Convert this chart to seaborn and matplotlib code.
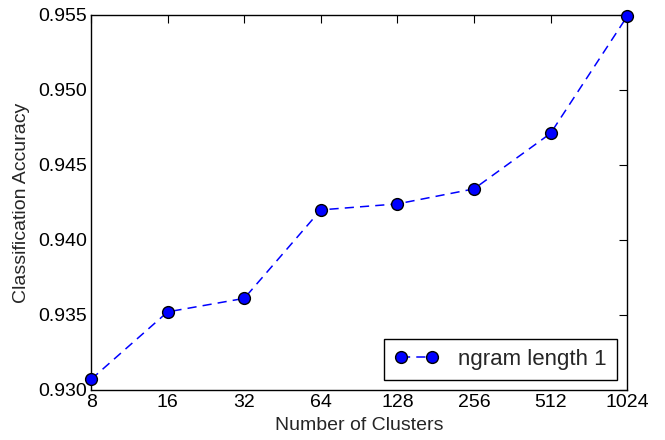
import numpy as np
import pandas as pd
import matplotlib
matplotlib.use('Agg')
import matplotlib.pyplot as plt
import seaborn as sns

clusters = [8, 16, 32, 64, 128, 256, 512, 1024]
accuracy = [0.9307, 0.9352, 0.9361, 0.9420, 0.9424, 0.9434, 0.9471, 0.9549]
series_label = 'ngram length 1'
yticks = [0.930, 0.935, 0.940, 0.945, 0.950, 0.955]


def main():
    sns.set_style('white')
    plt.rcParams['font.family'] = ['Liberation Sans', 'DejaVu Sans']

    df = pd.DataFrame({'clusters': clusters, 'accuracy': accuracy})

    fig, ax = plt.subplots(figsize=(6.65, 4.4), dpi=100)
    fig.subplots_adjust(left=0.137, right=0.943, top=0.966, bottom=0.114)

    sns.lineplot(data=df, x='clusters', y='accuracy', ax=ax, color='blue',
                 linestyle=(0, (6, 4)), marker='o', markersize=8.5,
                 markeredgecolor='black', markeredgewidth=1, linewidth=1.1,
                 label=series_label, clip_on=False, zorder=3)

    ax.set_xscale('log', base=2)
    ax.set_xticks(clusters)
    ax.set_xticklabels([str(c) for c in clusters])
    ax.minorticks_off()
    ax.set_xlim(8, 1024)
    ax.set_ylim(0.930, 0.955)
    ax.set_yticks(yticks)
    ax.set_yticklabels([f'{t:.3f}' for t in yticks])

    ax.tick_params(direction='in', top=True, right=True, length=6, width=0.8,
                   labelsize=14, colors='black', pad=3)
    for s in ax.spines.values():
        s.set_color('black')
        s.set_linewidth(1)

    ax.set_xlabel('Number of Clusters', fontsize=14, labelpad=4)
    ax.set_ylabel('Classification Accuracy', fontsize=14, labelpad=6)

    leg = ax.legend(loc='lower right', numpoints=2, fancybox=False, framealpha=1,
                    edgecolor='black', fontsize=16, handlelength=2.0,
                    handletextpad=0.9, borderpad=0.45, borderaxespad=0.45)
    leg.get_frame().set_linewidth(1)

    plt.savefig('out.png', dpi=100)
    plt.close()


if __name__ == '__main__':
    main()
